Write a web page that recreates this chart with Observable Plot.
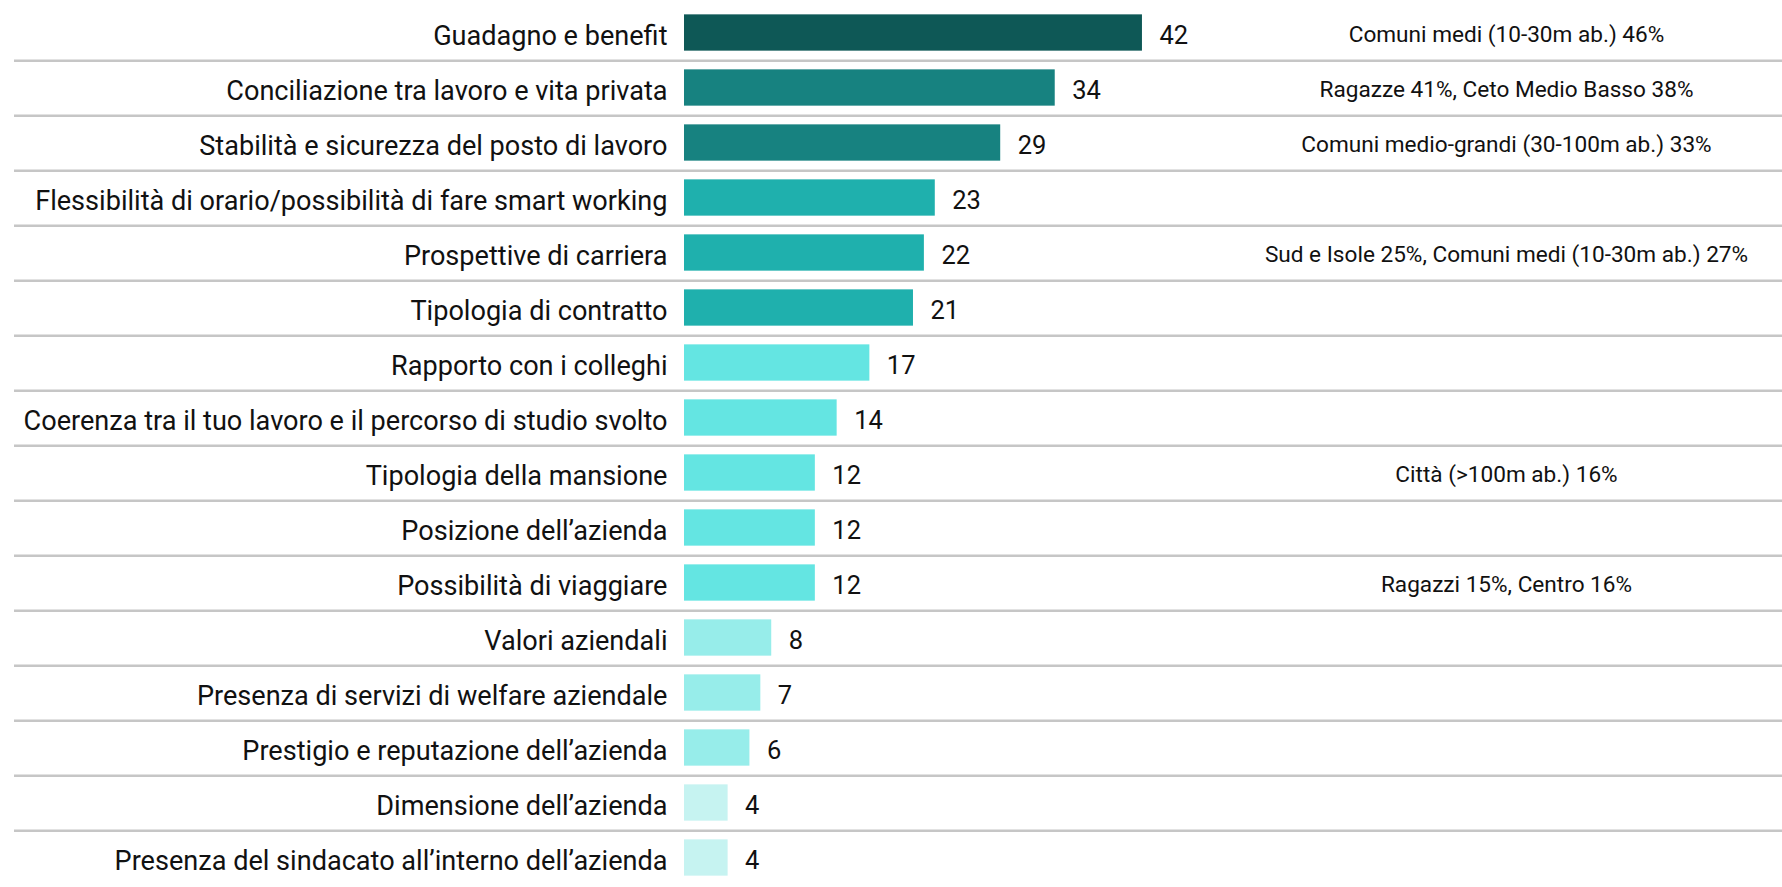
<!DOCTYPE html>
<html>
<head>
<meta charset="utf-8">
<script src="https://cdn.jsdelivr.net/npm/d3@7"></script>
<script src="https://cdn.jsdelivr.net/npm/@observablehq/plot@0.6"></script>
<style>
  html, body { margin: 0; padding: 0; background: #ffffff; overflow: hidden; }
  #chart svg { display: block; }
</style>
</head>
<body>
<div id="chart"></div>
<script>
const categories = [
  "Guadagno e benefit",
  "Conciliazione tra lavoro e vita privata",
  "Stabilità e sicurezza del posto di lavoro",
  "Flessibilità di orario/possibilità di fare smart working",
  "Prospettive di carriera",
  "Tipologia di contratto",
  "Rapporto con i colleghi",
  "Coerenza tra il tuo lavoro e il percorso di studio svolto",
  "Tipologia della mansione",
  "Posizione dell’azienda",
  "Possibilità di viaggiare",
  "Valori aziendali",
  "Presenza di servizi di welfare aziendale",
  "Prestigio e reputazione dell’azienda",
  "Dimensione dell’azienda",
  "Presenza del sindacato all’interno dell’azienda"
];
const values = [42, 34, 29, 23, 22, 21, 17, 14, 12, 12, 12, 8, 7, 6, 4, 4];
const notes = [
  "Comuni medi (10-30m ab.) 46%",
  "Ragazze 41%, Ceto Medio Basso 38%",
  "Comuni medio-grandi (30-100m ab.) 33%",
  "",
  "Sud e Isole 25%, Comuni medi (10-30m ab.) 27%",
  "",
  "",
  "",
  "Città (>100m ab.) 16%",
  "",
  "Ragazzi 15%, Centro 16%",
  "",
  "",
  "",
  "",
  ""
];
const colorThresholds = [5, 10, 20, 25, 40];
const colorRange = ["#c6f3f1", "#97edea", "#64e5e2", "#1fb0ad", "#178280", "#0e5856"];

const rows = categories.map((c, i) => ({category: c, value: values[i], note: notes[i]}));

const W = 1782, H = 887, mL = 684, mR = 0, mT = 2, mB = -1.4;
const pitch = (H - mT - mB) / categories.length;
const barH = 36.7;
const inset = (pitch - barH) / 2;
const font = "Roboto, 'Liberation Sans', sans-serif";

const chart = Plot.plot({
  width: W,
  height: H,
  marginLeft: mL,
  marginRight: mR,
  marginTop: mT,
  marginBottom: mB,
  style: {fontFamily: font, background: "#ffffff", color: "#111"},
  x: {domain: [0, 100.7], axis: null},
  y: {type: "band", domain: categories, padding: 0, axis: null},
  color: {type: "threshold", domain: colorThresholds, range: colorRange},
  marks: [
    Plot.ruleY(rows.slice(0, -1), {
      y: "category", dy: pitch / 2, insetLeft: -(mL - 14),
      stroke: "#c6c6c6", strokeWidth: 2.4
    }),
    Plot.barX(rows, {
      x: "value", y: "category", fill: "value",
      insetTop: inset, insetBottom: inset
    }),
    Plot.axisY({
      tickSize: 0, tickPadding: 17, fontSize: 27.1, dy: 3,
      fill: "#111", label: null
    }),
    Plot.text(rows, {
      x: "value", y: "category", text: d => String(d.value),
      dx: 17, dy: 3, textAnchor: "start", fontSize: 25.5, fill: "#111"
    }),
    Plot.text(rows.filter(d => d.note), {
      y: "category", text: "note", frameAnchor: "right",
      dx: -(W - 1506), dy: 2, textAnchor: "middle", fontSize: 22.6, fill: "#111"
    })
  ]
});
document.getElementById("chart").appendChild(chart);
</script>
</body>
</html>
